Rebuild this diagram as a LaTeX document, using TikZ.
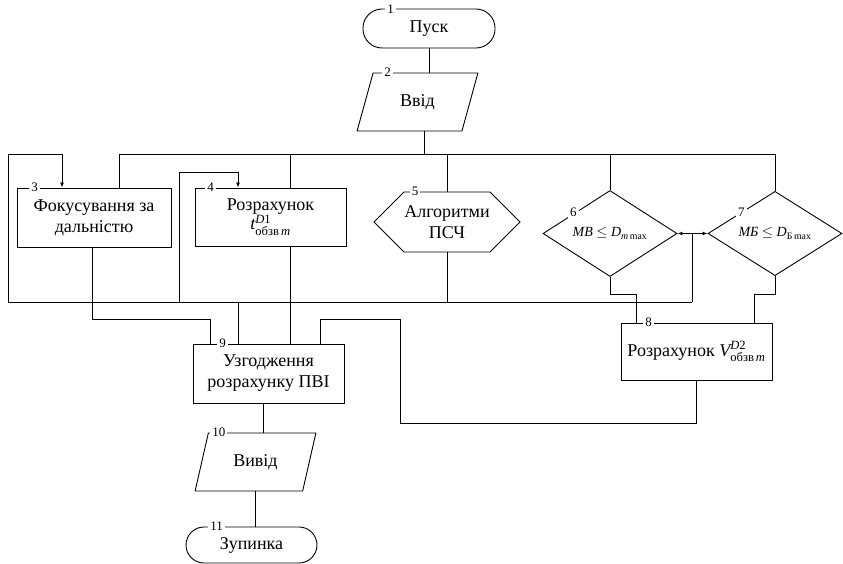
\documentclass[tikz,border=0pt]{standalone}
\usepackage{fontspec}
\setmainfont{Liberation Serif}
\usepackage{amsmath}
\usetikzlibrary{shapes.geometric,shapes.symbols,arrows.meta,calc}

\begin{document}
\begin{tikzpicture}[x=1pt,y=-1pt,line width=0.9pt,
  term/.style={draw,rectangle,rounded corners=19pt,
               minimum width=132pt,minimum height=39pt,inner sep=0pt,
               font=\fontsize{18}{21}\selectfont},
  io/.style={draw,trapezium,trapezium left angle=68,trapezium right angle=112,
             trapezium stretches=true,minimum width=121pt,minimum height=58pt,
             inner sep=0pt,font=\fontsize{18}{21}\selectfont},
  proc/.style={draw,rectangle,minimum width=151pt,minimum height=58pt,
               align=center,inner sep=0pt,font=\fontsize{18}{21}\selectfont},
  prep/.style={draw,signal,signal to=west and east,signal pointer angle=90,
               minimum width=146pt,minimum height=60pt,inner sep=0pt,
               align=center,font=\fontsize{18}{21}\selectfont},
  decis/.style={draw,diamond,minimum width=134pt,minimum height=82pt,
                inner sep=0pt,font=\fontsize{14}{16}\selectfont},
  num/.style={fill=white,inner sep=2pt,font=\fontsize{13}{13}\selectfont},
  arr/.style={-{Latex[length=5pt,width=4pt]}},
]
\useasboundingbox (0,0) rectangle (843,564);

\node[term] (pusk) at (429,28.5) {Пуск};
\node[io] (vvid) at (417.5,102) {Ввід};
\node[proc,minimum width=154pt,minimum height=59pt] (focus) at (94,217.5) {Фокусування за\\дальністю};
\node[proc] (rozr) at (270.5,217) {Розрахунок\\[-2pt]$\textit{t}^{\textit{D}\text{1}}_{\text{обзв}\,\textit{m}}$};
\node[prep] (alg) at (447,222) {Алгоритми\\ПСЧ};
\node[decis] (cond6) at (610,233.5) {{\itshape МВ} $\leq$ {\itshape D}\textsubscript{\itshape m\,\upshape max}};
\node[decis,minimum height=78pt] (cond7) at (775,233.5) {{\itshape МБ} $\leq$ {\itshape D}\textsubscript{Б\,max}};
\node[proc,minimum height=57pt] (rozrv) at (696.5,351.5) {Розрахунок $\textit{V}^{\textit{D}\text{2}}_{\text{обзв}\,\textit{m}}$};
\node[proc,minimum height=59pt] (uzgod) at (268.5,373.5) {Узгодження\\розрахунку ПВІ};
\node[io] (vyvid) at (255.5,462) {Вивід};
\node[term,minimum width=131pt,minimum height=36pt,rounded corners=18pt] (stop) at (251.5,545) {Зупинка};

\coordinate (busl) at (119,154);
\coordinate (busr) at (775,154);
\coordinate (bbl) at (8,302);
\coordinate (bbr) at (692,302);
\coordinate (lp1) at (8,154);
\coordinate (lp2) at (179,302);
\coordinate (lp2t) at (179,172);
\coordinate (j3) at (210,319);
\coordinate (j9a) at (400,319);
\coordinate (j9b) at (400,423);
\coordinate (j6) at (636,294);
\coordinate (j7) at (754,294);

\draw (pusk.south) -- (pusk.south |- vvid.north);
\draw ([xshift=-5pt]vvid.south -| pusk.south) -- ([xshift=-5pt]busl -| pusk.south);
\draw (busl) -- (busr);
\draw (focus.north -| busl) -- (busl);
\draw ([xshift=20pt]rozr.north) -- ([xshift=20pt]rozr.north |- busl);
\draw (alg.north) -- (alg.north |- busl);
\draw (cond6.north) -- (cond6.north |- busl);
\draw (cond7.north) -- (busr);

\draw (bbl) -- (bbr);
\draw (alg.south) -- (alg.south |- bbl);
\draw[arr] (bbl) -- (lp1) -| ([xshift=-32pt]focus.north);
\draw[arr] (lp2) -- (lp2t) -| ([xshift=-32.5pt]rozr.north);
\draw ([xshift=-30.5pt]uzgod.north) -- ([xshift=-30.5pt]uzgod.north |- bbl);
\draw ([xshift=20pt]rozr.south) -- ([xshift=20pt]rozr.south |- uzgod.north);
\draw ([xshift=-2pt]focus.south) |- (j3) -- (j3 |- uzgod.north);
\draw ([xshift=51.5pt]uzgod.north) |- (j9a) -- (j9b) -| (rozrv.south);
\draw (cond6.south) |- (j6) -- (j6 |- rozrv.north);
\draw (cond7.south) |- (j7) -- (j7 |- rozrv.north);
\draw[arr] (bbr) |- (cond6.east);
\draw[arr] (bbr |- cond6.east) -- (cond7.west);
\draw ([xshift=-5.5pt]uzgod.south) -- ([xshift=-5.5pt]uzgod.south |- vyvid.north);
\draw (vyvid.south) -- (vyvid.south |- stop.north);

\node[num] (n1) at ([xshift=28pt,yshift=-1pt]pusk.north west) {1};
\node[num] (n2) at ([xshift=15pt]vvid.top left corner) {2};
\node[num] (n3) at ([xshift=18pt]focus.north west) {3};
\node[num] (n4) at ([xshift=16pt]rozr.north west) {4};
\node[num] (n5) at ([xshift=-32pt]alg.north) {5};
\node[num] (n6) at ([xshift=-3pt]cond6.north west) {6};
\node[num] (n7) at (cond7.north west) {7};
\node[num] (n8) at ([xshift=28pt]rozrv.north west) {8};
\node[num] (n9) at ([xshift=30pt]uzgod.north west) {9};
\node[num] (n10) at ([xshift=11pt]vyvid.top left corner) {10};
\node[num] (n11) at ([xshift=31pt]stop.north west) {11};
\end{tikzpicture}
\end{document}
